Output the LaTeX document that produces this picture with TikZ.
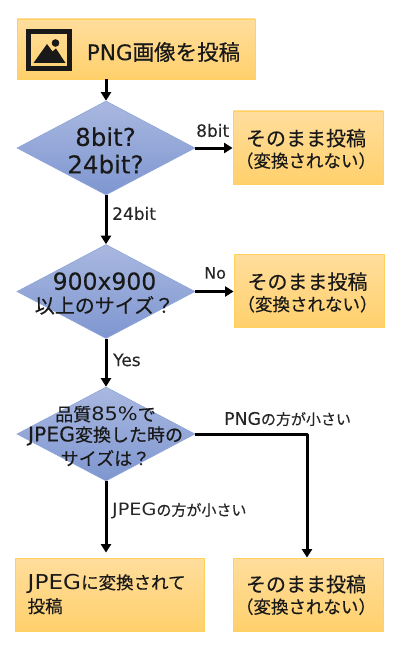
\documentclass[tikz,border=0pt]{standalone}
\usepackage{fontspec}
\setmainfont[FakeBold=0.12]{DejaVu Sans}
\newfontfamily\jp[FakeBold=0.35]{Noto Sans CJK JP}
\newfontfamily\wide[FakeStretch=1.13]{DejaVu Sans}
\usetikzlibrary{shapes.geometric,arrows.meta}
\newcommand{\fs}[1]{\fontsize{#1}{#1}\selectfont}
\definecolor{boxtop}{HTML}{FFDD9C}
\definecolor{boxbot}{HTML}{FFD06C}
\definecolor{boxline}{HTML}{FFD25F}
\definecolor{dtop}{HTML}{A9B8E0}
\definecolor{dbot}{HTML}{7E96D0}
\definecolor{dline}{HTML}{8FA5D8}
\tikzset{
  x=1pt,y=-1pt,
  orangebox/.style={draw=boxline,line width=0.8pt,top color=boxtop,bottom color=boxbot,shading angle=0,inner sep=0pt,minimum width=#1,minimum height=73pt},
  decision/.style={diamond,draw=dline,line width=0.6pt,top color=dtop,bottom color=dbot,inner sep=0pt,aspect=1.9,minimum width=178pt,minimum height=94pt},
  flow/.style={line width=3pt,draw=black,-{Triangle[width=10pt,length=8.5pt]}},
  lab/.style={inner sep=0pt,text=black!90,align=center},
  edgelab/.style={inner sep=0pt,text=black!85,anchor=west},
}
\newcommand{\keep}{{\jp\fs{20}そのまま投稿}\\[4pt]{\jp\fs{17.5}（変換されない）}}
\begin{document}
\begin{tikzpicture}
\useasboundingbox (0,0) rectangle (400,650);
% boxes
\node[orangebox=238pt,minimum height=60pt] (start) at (136,49) {};
\node[orangebox=150pt] (keepa) at (308,147.5) {};
\node[orangebox=150pt] (keepb) at (309,291) {};
\node[orangebox=189pt] (jpeg) at (109.5,594.5) {};
\node[orangebox=150pt] (keepc) at (308,594.5) {};
% decisions
\node[decision] (da) at (106,148) {};
\node[decision] (db) at (106,291.5) {};
\node[decision] (dc) at (106,434) {};
% icon
\draw[line width=4.6pt,draw=black!90] (28.3,31.3) rectangle (69.7,68.7);
\fill[black!90] (33.5,63) -- (47,44) -- (52.5,51.5) -- (56,48.5) -- (65.5,63) -- cycle;
\fill[black!90] (55.5,43) circle (3.8);
% texts
\node[lab,font=\fs{21.5}] (tstart) at (163.5,52) {PNG{\jp 画像を投稿}};
\node[lab,font=\fs{24.5}] (tda) at (105.5,150.5) {8bit?\\[3pt]24bit?};
\node[lab] (tdb) at (104.5,293.5) {{\fs{23.5}900x900}\\[5pt]{\jp\fs{20}以上のサイズ？}};
\node[lab,font=\fs{18}] (tdc) at (105.5,436) {{\jp 品質}{\wide\fs{18.5}85\%}{\jp で}\\[2.5pt]{\fs{20.4}JPEG}{\jp 変換した時の}\\[3.5pt]{\jp サイズは？}};
\node[lab] (tka) at (306,149) {\keep};
\node[lab] (tkb) at (307.5,292.5) {\keep};
\node[lab] (tkc) at (306,595) {\keep};
\node[lab,align=left,anchor=west] (tjp) at (27.5,594) {{\wide\fs{20.5}JPEG}{\jp\fs{17.5}に変換されて}\\[4pt]{\jp\fs{17.5}投稿}};
% connectors
\draw[flow] (start.south -| da.north) -- (da.north);
\draw[flow] (da.east) -- (da.east -| keepa.west);
\draw[flow] (da.south) -- (db.north);
\draw[flow] (db.east) -- (db.east -| keepb.west);
\draw[flow] (db.south) -- (dc.north);
\coordinate (turn) at (307,434);
\draw[flow,line join=round] (dc.east) -- (turn) -- (keepc.north -| turn);
\draw[flow,shorten >=5pt] (dc.south) -- (jpeg.north -| dc.south);
% edge labels
\node[edgelab,font=\fs{17}] (l8) at (196,130.5) {8bit};
\node[edgelab,font=\fs{17}] (l24) at (112,213.5) {24bit};
\node[edgelab,font=\fs{16}] (lno) at (204,273) {No};
\node[edgelab,font=\fs{17}] (lyes) at (113,360) {Yes};
\node[edgelab] (lpng) at (224,419) {{\fs{17.3}PNG}{\jp\fs{15}の方が小さい}};
\node[edgelab] (ljpg) at (112,511) {{\wide\fs{17}JPEG}{\jp\fs{15}の方が小さい}};
\end{tikzpicture}
\end{document}
